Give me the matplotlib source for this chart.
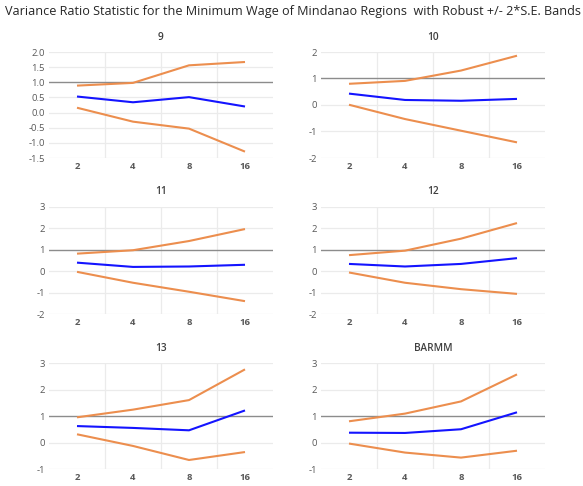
import matplotlib
matplotlib.use("Agg")
import matplotlib.pyplot as plt
import numpy as np

# ---- data ----
periods = ["2", "4", "8", "16"]
panel_titles = ["9", "10", "11", "12", "13", "BARMM"]

vr_9 = [0.53, 0.34, 0.51, 0.20]
up_9 = [0.89, 0.98, 1.56, 1.67]
lo_9 = [0.16, -0.30, -0.53, -1.29]

vr_10 = [0.43, 0.19, 0.16, 0.23]
up_10 = [0.80, 0.91, 1.30, 1.86]
lo_10 = [0.01, -0.53, -0.97, -1.41]

vr_11 = [0.40, 0.20, 0.22, 0.30]
up_11 = [0.82, 0.98, 1.41, 1.97]
lo_11 = [-0.03, -0.54, -0.96, -1.40]

vr_12 = [0.34, 0.22, 0.34, 0.61]
up_12 = [0.75, 0.96, 1.52, 2.25]
lo_12 = [-0.06, -0.54, -0.84, -1.06]

vr_13 = [0.62, 0.55, 0.46, 1.21]
up_13 = [0.95, 1.24, 1.60, 2.76]
lo_13 = [0.31, -0.13, -0.66, -0.36]

vr_barmm = [0.37, 0.36, 0.50, 1.14]
up_barmm = [0.80, 1.09, 1.55, 2.57]
lo_barmm = [-0.04, -0.38, -0.57, -0.31]

yticks_9 = [-1.5, -1.0, -0.5, 0.0, 0.5, 1.0, 1.5, 2.0]
yticks_10 = [-2, -1, 0, 1, 2]
yticks_mid = [-2, -1, 0, 1, 2, 3]
yticks_bot = [-1, 0, 1, 2, 3]

series = [
    (vr_9, up_9, lo_9, yticks_9, "{:.1f}"),
    (vr_10, up_10, lo_10, yticks_10, "{:.0f}"),
    (vr_11, up_11, lo_11, yticks_mid, "{:.0f}"),
    (vr_12, up_12, lo_12, yticks_mid, "{:.0f}"),
    (vr_13, up_13, lo_13, yticks_bot, "{:.0f}"),
    (vr_barmm, up_barmm, lo_barmm, yticks_bot, "{:.0f}"),
]

W, H = 583, 486
fig = plt.figure(figsize=(W / 100, H / 100), dpi=100)
plt.rcParams['font.family'] = ['Open Sans', 'DejaVu Sans']

fig.text(0.503, 1 - 11 / H, "Variance Ratio Statistic for the Minimum Wage of Mindanao Regions  with Robust +/- 2*S.E. Bands",
         ha="center", va="center", fontsize=9.1, color="#262626")

lefts = [49, 321]
tops = [52, 207, 363]
bots = [158, 314, 469]
pw = 224

blue = "#1414ff"
orange = "#EC8E4E"
grid_c = "#ebebeb"
tick_c = "#595959"

for i, (vr, up, lo, yt, fmt) in enumerate(series):
    r, c = divmod(i, 2)
    ax = fig.add_axes([lefts[c] / W, 1 - bots[r] / H, pw / W, (bots[r] - tops[r]) / H])
    x = np.arange(len(periods))
    ax.set_xlim(-0.5, len(periods) - 0.5)
    ax.set_ylim(yt[0], yt[-1])
    for yv in yt:
        if yv != 1:
            ax.axhline(yv, color=grid_c, lw=0.9, zorder=0)
    for xv in [0.5, 1.5, 2.5]:
        ax.axvline(xv, color=grid_c, lw=0.9, zorder=0)
    ax.axhline(1, color="#8c8c8c", lw=1.0, zorder=1)
    ax.plot(x, up, color=orange, lw=1.5, zorder=3, solid_capstyle="butt")
    ax.plot(x, lo, color=orange, lw=1.5, zorder=3, solid_capstyle="butt")
    ax.plot(x, vr, color=blue, lw=1.5, zorder=4, solid_capstyle="butt")
    ax.set_xticks(x)
    ax.set_xticklabels(periods)
    ax.set_yticks(yt)
    ax.set_yticklabels([fmt.format(v) for v in yt])
    for s in ax.spines.values():
        s.set_visible(False)
    ax.tick_params(length=0, labelsize=6.8, colors=tick_c, pad=3)
    for lab in ax.get_xticklabels():
        lab.set_fontweight("bold")
    ax.set_title(panel_titles[i], fontsize=7.3, color="#404040", pad=9, fontweight="semibold")
    ax.set_facecolor("none")

fig.savefig("out.png", dpi=100)
